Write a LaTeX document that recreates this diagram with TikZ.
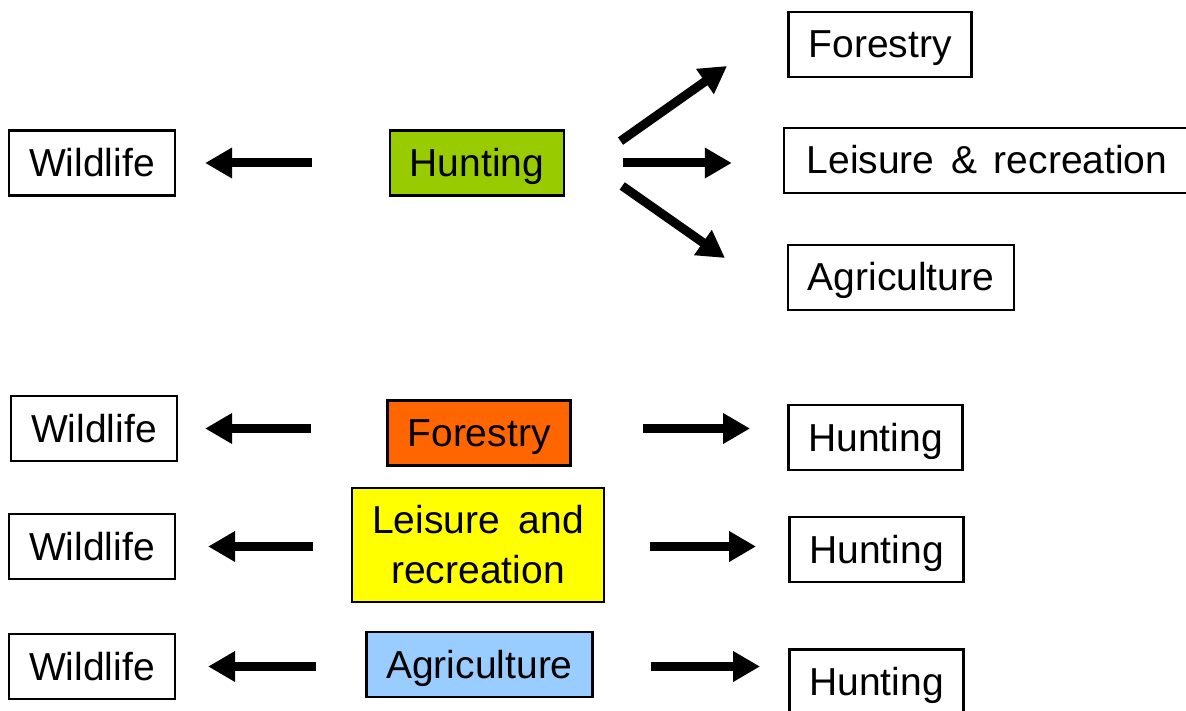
\documentclass[tikz,border=0pt]{standalone}
\usepackage{fontspec}
\setmainfont{Liberation Sans}
\usetikzlibrary{arrows.meta,calc,positioning}
\definecolor{huntgreen}{RGB}{153,204,0}
\definecolor{forestorange}{RGB}{255,102,0}
\definecolor{leisureyellow}{RGB}{255,255,0}
\definecolor{agriblue}{RGB}{153,204,255}
\tikzset{
    block/.style = {draw, rectangle, line width=2.5pt,
        minimum height=65pt, text height=33pt, text depth=6pt,
        inner xsep=20pt, align=center,
        font=\fontsize{39}{50}\selectfont},
    arrow/.style = {draw, line width=9pt, -{Triangle[length=27pt,width=29pt]}}
}

\begin{document}
\begin{tikzpicture}[x=1pt,y=-1pt]
    \useasboundingbox (0,0) rectangle (1186,711);
        % hunting and what it touches
        \node [block] (wild1) at (92,163) {Wildlife};
        \node [block, fill=huntgreen] (hunt1) at (477,163) {Hunting};
        \node [block] (fores1) at (880,44.5) {Forestry};
        \node [block, minimum width=406pt] (leis1) at (987,160.5) {Leisure\hspace{0.15em} \&\hspace{0.15em} recreation};
        \node [block] (agri1) at (901,277.5) {Agriculture};
        \coordinate [right=24pt of hunt1.east] (fan);
        \coordinate (tipF) at (727,66);
        \coordinate (tipA) at (725,258);
        \draw [arrow, shorten <=77pt, shorten >=29pt] (hunt1) -- (wild1);
        \draw [arrow, shorten <=38pt] (fan) -- (tipF);
        \draw [arrow, shorten <=34pt, shorten >=51pt] (fan) -- (leis1.west |- fan);
        \draw [arrow, shorten <=40pt] (fan) -- (tipA);
        % the others and hunting
        \node [block] (wild2) at (94,428.5) {Wildlife};
        \node [block, fill=forestorange] (fores2) at (479,433) {Forestry};
        \node [block] (hunt2) at (875.5,437.5) {Hunting};
        \draw [arrow, shorten <=75pt, shorten >=27pt] (fores2.west |- wild2) -- (wild2.east);
        \draw [arrow, shorten <=71pt, shorten >=37pt] (fores2.east |- wild2) -- (hunt2.west |- wild2);
        \node [block] (wild3) at (92,546.5) {Wildlife};
        \node [block, fill=leisureyellow, text height=, text depth=, minimum height=114pt] (leis2) at (478,545) {Leisure\hspace{0.2em} and\\recreation};
        \node [block] (hunt3) at (876.5,549.5) {Hunting};
        \draw [arrow, shorten <=38pt, shorten >=32pt] (leis2.west |- wild3) -- (wild3.east);
        \draw [arrow, shorten <=45pt, shorten >=32pt] (leis2.east |- wild3) -- (hunt3.west |- wild3);
        \node [block] (wild4) at (92,666.5) {Wildlife};
        \node [block, fill=agriblue] (agri2) at (479.5,664.5) {Agriculture};
        \node [block] (hunt4) at (876.5,682) {Hunting};
        \draw [arrow, shorten <=49pt, shorten >=32pt] (agri2.west |- wild4) -- (wild4.east);
        \draw [arrow, shorten <=57pt, shorten >=28pt] (agri2.east |- wild4) -- (hunt4.west |- wild4);
\end{tikzpicture}
\end{document}
